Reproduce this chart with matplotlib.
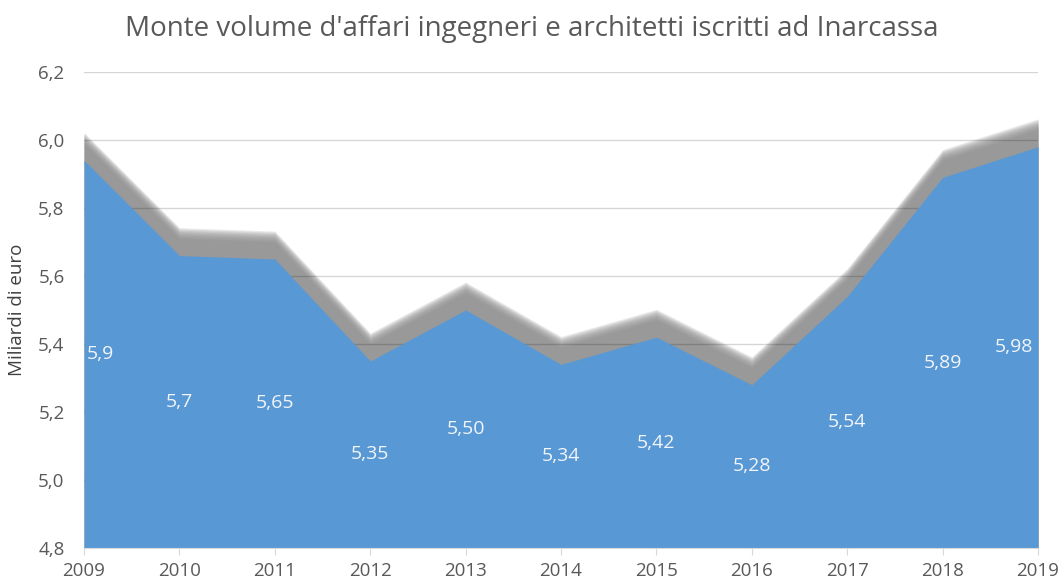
import numpy as np
import matplotlib.pyplot as plt

years = [2009, 2010, 2011, 2012, 2013, 2014, 2015, 2016, 2017, 2018, 2019]
volume = [5.94, 5.66, 5.65, 5.35, 5.50, 5.34, 5.42, 5.28, 5.54, 5.89, 5.98]
labels = ["5,9", "5,7", "5,65", "5,35", "5,50", "5,34", "5,42", "5,28", "5,54", "5,89", "5,98"]
y_ticks = [4.8, 5.0, 5.2, 5.4, 5.6, 5.8, 6.0, 6.2]

plt.rcParams['font.family'] = ['Open Sans', 'DejaVu Sans']

fig = plt.figure(figsize=(10.64, 5.82), dpi=100)
ax = fig.add_axes([0.079, 0.0584, 0.8966, 0.818])

x = np.array(years)
v = np.array(volume)
ymin, ymax = 4.8, 6.2

# shadow (blurred gray band above the area)
n = 10
for k in range(n):
    off = 0.05 + 0.032 * k / (n - 1)
    ax.fill_between(x, ymin, v + off, color="#8f8f8f", alpha=0.2, lw=0, zorder=1)

# grid lines
for t in y_ticks[1:]:
    ax.axhline(t, color="black", alpha=0.16, lw=1, zorder=2)

# main area
ax.fill_between(x, ymin, v, color="#5898d4", lw=0, zorder=3)

# data labels
for i, (yr, val, lab) in enumerate(zip(years, volume, labels)):
    ha = "center"
    xx = yr
    if i == 0:
        ha, xx = "left", yr + 0.03
    elif i == len(years) - 1:
        ha, xx = "right", yr - 0.05
    ax.text(xx, (val + ymin) / 2, lab, color="#f2f5fa", fontsize=14,
            ha=ha, va="center", zorder=4)

ax.set_xlim(2009, 2019)
ax.set_ylim(ymin, ymax)
ax.set_xticks(years)
ax.set_yticks(y_ticks)
ax.set_yticklabels([f"{t:.1f}".replace(".", ",") for t in y_ticks])

for s in ["top", "right", "left"]:
    ax.spines[s].set_visible(False)
ax.spines["bottom"].set_color("#d9d9d9")
ax.spines["bottom"].set_zorder(5)
ax.tick_params(axis="x", colors="#d9d9d9", length=5, labelcolor="#595959",
               labelsize=13.5, pad=5)
ax.tick_params(axis="y", length=0, labelcolor="#595959", labelsize=13.5, pad=14)

ax.set_ylabel("Miliardi di euro", fontsize=13.5, color="#404040", labelpad=9)
fig.text(0.5, 0.95, "Monte volume d'affari ingegneri e architetti iscritti ad Inarcassa",
         ha="center", va="center", fontsize=20, color="#595959")

fig.savefig("out.png", dpi=100)
